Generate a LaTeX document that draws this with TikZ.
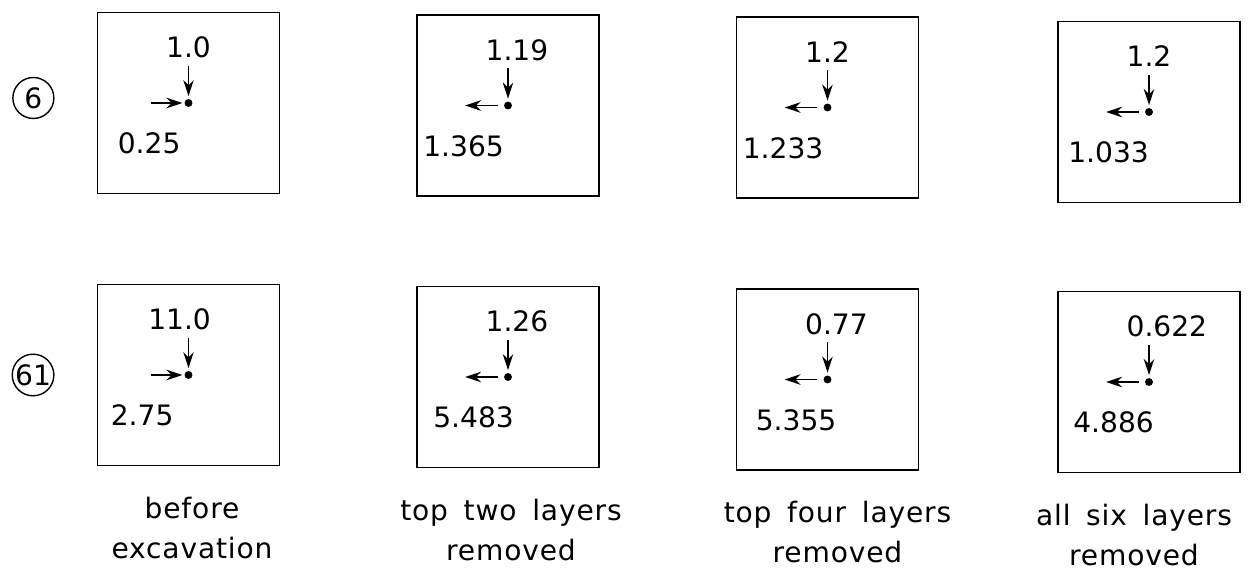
\documentclass[tikz,border=0pt]{standalone}
\usepackage{fontspec}
\setmainfont{DejaVu Sans}
\newfontfamily\capfont[WordSpace=1.6,LetterSpace=3]{DejaVu Sans}
\usetikzlibrary{arrows.meta,positioning}
\tikzset{
  panel/.style={draw,line width=1.1pt,minimum width=3.64cm,minimum height=3.62cm,inner sep=0pt},
  pt/.style={circle,fill,inner sep=0pt,minimum size=4.5pt},
  load/.style={line width=0.9pt,-{Stealth[length=3.2mm,width=2.1mm]}},
  val/.style={font=\fontsize{16}{19}\selectfont,inner sep=0pt},
  tag/.style={draw,circle,line width=0.8pt,minimum size=0.82cm,inner sep=0pt,font=\fontsize{16}{19}\selectfont},
  caption/.style={align=center,inner sep=0pt,font=\capfont\fontsize{16}{22.8}\selectfont},
}
\begin{document}
\begin{tikzpicture}[x=0.02cm,y=-0.02cm]
\useasboundingbox (0,0) rectangle (1258,573);
\foreach \nm/\bx/\by/\ti/\tf/\bl/\lx/\dir in {
  6-1/188.5/103/1/0/0.25/71/1,
  6-2/508/105.5/1/19/1.365/85/0,
  6-3/827.5/107.5/1/2/1.233/85/0,
  6-4/1149/112/1/2/1.033/81/0,
  61-1/188.5/375/11/0/2.75/78/1,
  61-2/508/377/1/26/5.483/75/0,
  61-3/827.5/379.5/0/77/5.355/72/0,
  61-4/1149/382/0/622/4.886/76/0}{
  \node[panel] (b\nm) at (\bx,\by) {};
  \node[pt] (p\nm) at (b\nm.center) {};
  \node[val,anchor=base] (t\nm) at (\bx,\by-45) {\llap{\ti}.\rlap{\tf}};
  \node[val,anchor=base west] (v\nm) at (\bx-\lx,\by+51) {\bl};
  \coordinate (u\nm) at (\bx,\by-37);
  \draw[load,shorten >=1.5pt] (u\nm) -- (p\nm);
  \ifnum\dir=1
    \coordinate (h\nm) at (\bx-38,\by);
    \draw[load,shorten >=1pt] (h\nm) -- (p\nm);
  \else
    \coordinate (h\nm) at (\bx-43,\by);
    \draw[load,shorten <=3.5pt] (p\nm) -- (h\nm);
  \fi
}
\node[tag,left=0.84cm of b6-1,yshift=0.1cm] (n6) {6};
\node[tag,left=0.84cm of b61-1] (n61) {61};
\node[caption,below=0.6cm of b61-1,xshift=0.07cm] (c1) {before\\excavation};
\node[caption,below=0.6cm of b61-2,xshift=0.06cm] (c2) {top two layers\\removed};
\node[caption,below=0.6cm of b61-3,xshift=0.2cm] (c3) {top four layers\\removed};
\node[caption,below=0.6cm of b61-4,xshift=-0.3cm] (c4) {all six layers\\removed};
\end{tikzpicture}
\end{document}
